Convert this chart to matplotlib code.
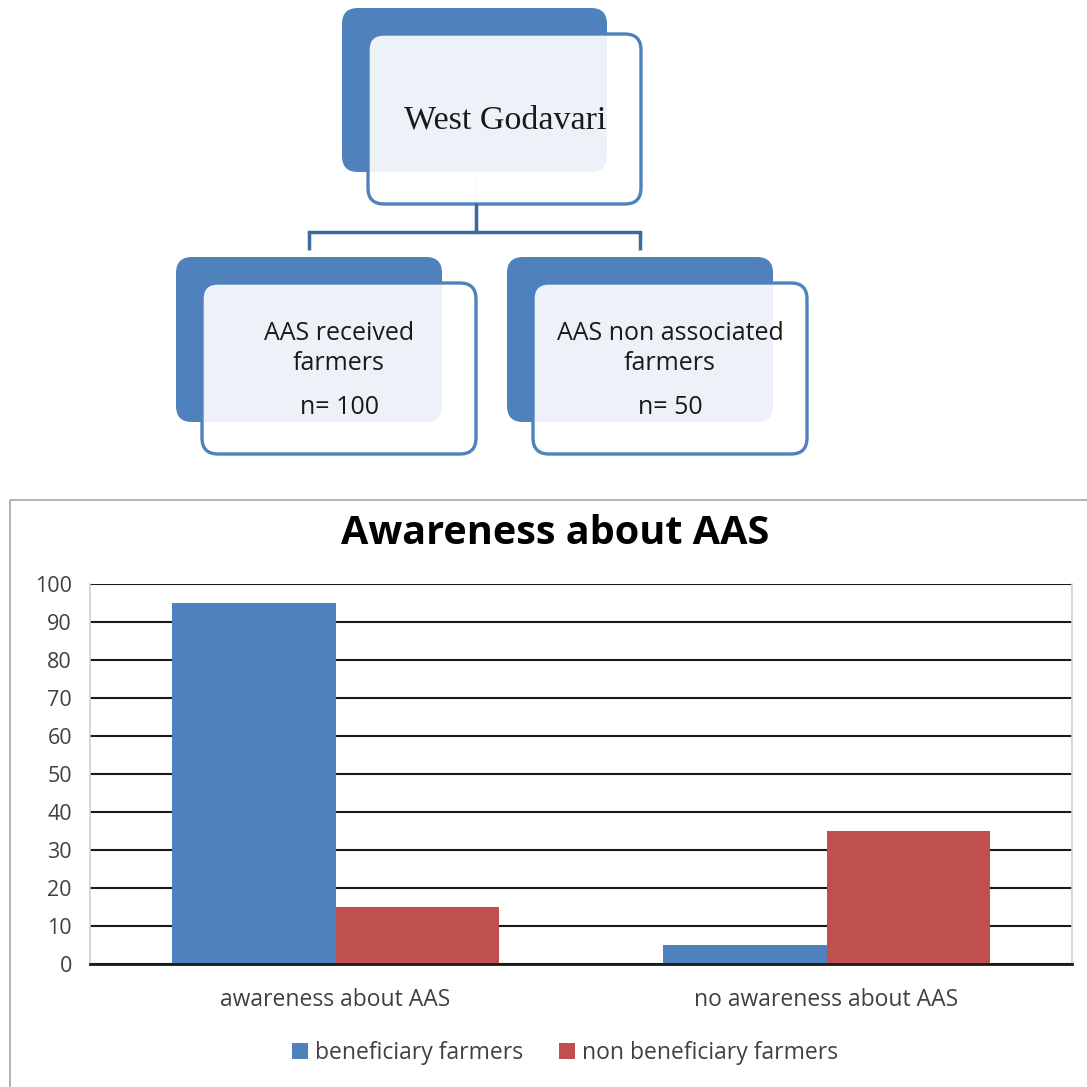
import matplotlib
matplotlib.use("Agg")
import matplotlib.pyplot as plt
from matplotlib.patches import FancyBboxPatch, Rectangle
import numpy as np

# ---- data ----
categories = ["awareness about AAS", "no awareness about AAS"]
series_names = ["beneficiary farmers", "non beneficiary farmers"]
beneficiary = [95, 5]
non_beneficiary = [15, 35]
yticks = [0, 10, 20, 30, 40, 50, 60, 70, 80, 90, 100]
title = "Awareness about AAS"
root_label = "West Godavari"
child_labels = ["AAS received\nfarmers", "AAS non associated\nfarmers"]
child_n = ["n= 100", "n= 50"]

BLUE = "#4F81BD"
RED = "#C0504D"
SANS = "Open Sans"
W = H = 1087

fig = plt.figure(figsize=(W / 100, H / 100), dpi=100)
fig.patch.set_facecolor("white")

# ---- diagram layer (pixel coordinates) ----
dg = fig.add_axes([0, 0, 1, 1])
dg.set_xlim(0, W)
dg.set_ylim(H, 0)
dg.axis("off")


def node(ax, x0, y0, w, h, off, r):
    back = FancyBboxPatch((x0, y0), w, h, boxstyle=f"round,pad=0,rounding_size={r}",
                          facecolor=BLUE, edgecolor="none", zorder=2)
    ax.add_patch(back)
    front = FancyBboxPatch((x0 + off, y0 + off), w + 8, h + 6,
                           boxstyle=f"round,pad=0,rounding_size={r}",
                           facecolor=(1, 1, 1, 0.9), edgecolor=BLUE, linewidth=2.4, zorder=3)
    ax.add_patch(front)


# root node
node(dg, 342, 8, 265, 164, 26, 16)
dg.text(505, 120, root_label, ha="center", va="center", fontsize=24.5,
        family="Liberation Serif", color="#1a1a1a", zorder=5)

# connectors
CONN = "#3A6A9E"
dg.plot([476, 476], [180, 232], color="#DCE4EF", lw=2.5, zorder=1)
dg.plot([476, 476], [203, 232], color=CONN, lw=2.5, zorder=4, solid_capstyle="butt")
dg.plot([309, 640], [232, 232], color=CONN, lw=2.5, zorder=4, solid_capstyle="projecting")
dg.plot([309, 309], [232, 250], color=CONN, lw=2.5, zorder=4, solid_capstyle="butt")
dg.plot([640, 640], [232, 250], color=CONN, lw=2.5, zorder=4, solid_capstyle="butt")

# child nodes
for x0, lab, n in zip([176, 507], child_labels, child_n):
    node(dg, x0, 257, 266, 165, 26, 16)
    cx = x0 + 163
    lines = lab.split("\n")
    dg.text(cx, 333, lines[0], ha="center", va="center", fontsize=18, family=SANS,
            color="#1a1a1a", zorder=5)
    dg.text(cx, 363, lines[1], ha="center", va="center", fontsize=18, family=SANS,
            color="#1a1a1a", zorder=5)
    dg.text(cx, 407, n, ha="center", va="center", fontsize=18, family=SANS,
            color="#1a1a1a", zorder=5)

# chart frame
dg.add_patch(Rectangle((10, 500), 1090, 600, facecolor="none", edgecolor="#A6A6A6",
                       linewidth=1.2, zorder=1))

# ---- bar chart ----
left, right, top, bottom = 90, 1072, 584, 964
ax = fig.add_axes([left / W, 1 - bottom / H, (right - left) / W, (bottom - top) / H])
ax.set_facecolor("none")
x = np.arange(len(categories))
bw = 0.333
ax.bar(x - bw / 2, beneficiary, width=bw, color=BLUE, label=series_names[0], zorder=3)
ax.bar(x + bw / 2, non_beneficiary, width=bw, color=RED, label=series_names[1], zorder=3)
ax.set_xlim(-0.5, len(categories) - 0.5)
ax.set_ylim(0, 100)
ax.set_yticks(yticks)
ax.set_yticklabels([str(t) for t in yticks], family=SANS, fontsize=15.5, color="#404040")
ax.set_xticks(x)
ax.set_xticklabels(categories, family=SANS, fontsize=16.5, color="#404040")
ax.tick_params(axis="both", length=0)
ax.tick_params(axis="y", pad=13)
ax.tick_params(axis="x", pad=17)
ax.yaxis.grid(True, color="#1a1a1a", linewidth=1.5, zorder=0)
ax.set_axisbelow(True)
for s in ["left", "right"]:
    ax.spines[s].set_color("#D0D0D0")
    ax.spines[s].set_linewidth(1.2)
ax.spines["top"].set_visible(False)
ax.spines["bottom"].set_color("#1a1a1a")
ax.spines["bottom"].set_linewidth(2.0)
ax.spines["bottom"].set_zorder(4)

fig.text(555 / W, 1 - 533 / H, title, ha="center", va="center", fontsize=28.5,
         fontweight="bold", family=SANS, color="black")

leg = fig.legend(loc="center", bbox_to_anchor=(565 / W, 1 - 1053 / H), ncol=2, frameon=False,
                 prop={"family": SANS, "size": 16.5}, handlelength=0.7, handleheight=0.7,
                 handletextpad=0.3, columnspacing=1.6)
for t in leg.get_texts():
    t.set_color("#404040")

fig.savefig("out.png", dpi=100, facecolor="white")
